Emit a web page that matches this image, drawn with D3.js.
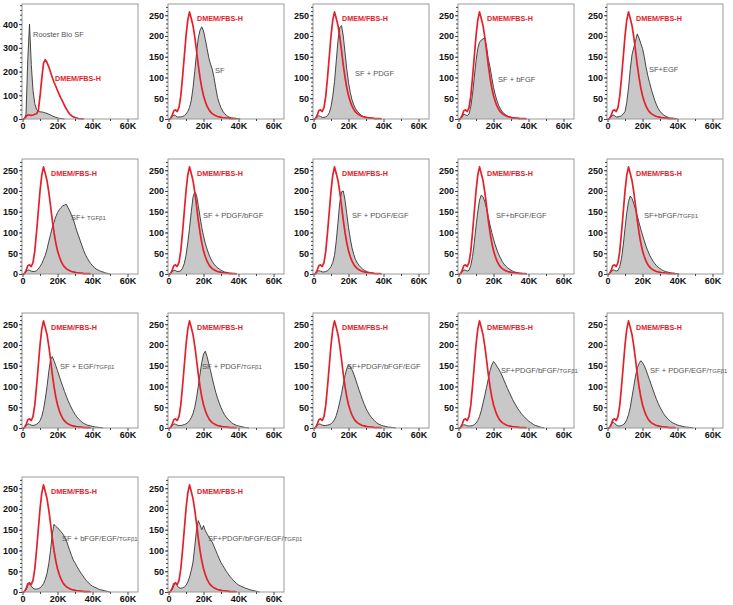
<!DOCTYPE html>
<html lang="en">
<head>
<meta charset="utf-8">
<title>Flow histograms</title>
<script src="https://d3js.org/d3.v7.min.js"></script>
<style>
  body { margin: 0; background: #fff; }
  text { font-family: "Liberation Sans", Arial, sans-serif; }
  .axis text { font-size: 9px; font-weight: bold; fill: #111; }
  .axis line { stroke: #444; }
  .axis path { display: none; }
</style>
</head>
<body>
<svg width="733" height="605"></svg>
<script>

// each value is the count in a 1K-wide bin, starting at 0
const binK = 1;

const xTicks = [0, 20, 40, 60];
const xTickLabels = ["0", "20K", "40K", "60K"];
const yTicks = [0, 50, 100, 150, 200, 250];
const yTicksRooster = [0, 100, 200, 300, 400];

const refLabel = "DMEM/FBS-H";

// red reference (DMEM/FBS-H)
const dmemFirst = [0,0,10,18,16,15,17,20,22,35,95,170,235,250,238,220,198,175,155,138,120,103,87,72,57,43,31,21,14,9,6,4,2,1,1,0];
const dmem = [0,0,8,20,22,18,28,55,100,150,200,238,258,242,225,198,165,130,100,75,56,42,31,23,17,13,10,8,6,5,4,3,3,2,2,1,1,1,1,0];

// grey samples
const rooster = [0,0,20,250,400,230,120,65,40,32,30,30,28,26,23,20,17,13,10,7,5,3,2,1,0];
const sf = [0,0,5,10,8,5,5,5,6,8,12,18,28,45,75,115,158,195,214,222,212,192,170,148,132,120,100,75,52,38,27,19,13,9,6,4,3,2,2,1,1,0];
const sfPdgf = [0,0,4,8,6,4,4,5,8,15,30,55,90,140,190,220,225,200,160,120,88,64,46,34,25,19,14,10,7,5,4,3,2,2,1,1,0];
const sfBfgf = [0,0,4,12,10,8,12,30,60,100,140,170,185,190,193,195,175,145,125,100,76,58,44,32,24,18,13,10,7,5,3,2,2,1,1,0];
const sfEgf = [0,0,4,10,8,5,5,6,8,12,18,40,75,120,155,172,188,205,195,182,170,150,125,105,88,72,58,45,34,25,18,14,10,7,5,3,2,2,1,1,0];
const sfTgf = [0,0,5,10,9,7,6,6,8,12,18,25,35,45,60,78,95,112,125,138,148,155,160,164,166,168,160,152,142,132,118,104,92,80,68,56,46,38,31,25,20,16,12,10,8,6,5,3,2,1,0];
const sfPdgfBfgf = [0,0,4,9,8,6,6,8,14,25,45,75,110,150,185,198,190,165,138,112,92,74,60,48,38,30,24,19,15,12,9,7,5,4,3,2,2,1,1,0];
const sfPdgfEgf = [0,0,4,8,7,5,5,6,8,12,18,28,45,80,125,172,198,200,178,145,112,85,63,47,35,27,21,16,12,9,7,5,4,3,2,1,1,0];
const sfBfgfEgf = [0,0,4,10,9,7,9,20,42,75,115,150,178,190,186,175,158,138,118,100,84,70,58,47,38,30,24,19,15,12,9,7,5,4,3,2,2,1,1,0];
const sfBfgfTgf = [0,0,4,10,9,7,9,18,38,70,110,148,175,188,182,170,155,140,124,108,94,80,67,56,46,38,31,25,20,16,13,10,8,6,5,4,3,2,2,1,1,0];
const sfEgfTgf = [0,0,5,10,9,7,6,7,9,12,18,28,45,70,100,135,165,172,162,150,138,125,112,100,88,77,66,57,48,40,33,27,22,18,14,11,9,7,6,5,4,3,2,2,1,1,0];
const sfPdgfTgf = [0,0,5,10,9,7,6,6,7,8,10,13,18,25,35,50,72,100,130,158,178,185,172,155,138,120,102,86,72,60,49,40,32,26,21,17,13,10,8,6,5,4,3,2,1,1,0];
const sfPdgfBfgfEgf = [0,0,5,10,9,7,6,6,7,8,10,14,20,30,45,63,83,105,126,143,152,148,140,130,118,105,92,80,68,57,47,39,32,26,21,17,13,10,8,6,5,4,3,2,2,1,1,0];
const sfPdgfBfgfTgf = [0,0,4,8,7,5,5,5,6,8,12,18,28,42,60,78,98,118,138,152,160,155,148,142,134,125,115,105,95,86,77,68,60,53,46,40,34,29,25,21,17,14,11,8,6,5,3,2,1,0];
const sfPdgfEgfTgf = [0,0,6,15,12,7,5,5,6,8,12,20,32,50,75,100,125,145,155,162,158,150,140,128,116,104,92,80,69,59,50,42,35,29,24,20,16,13,11,9,7,6,5,4,3,2,2,1,1,0];
const sfBfgfEgfTgf = [0,0,5,15,20,14,9,7,7,8,10,14,20,30,45,68,100,140,163,158,155,150,145,140,133,125,112,100,88,77,70,62,55,48,42,36,30,25,21,17,14,12,10,8,6,5,4,3,2,1,0];
const sfAll = [0,0,5,15,22,15,10,9,10,12,16,24,36,52,72,110,150,172,162,150,160,148,140,133,126,120,110,100,90,80,71,64,57,50,44,38,33,28,24,20,17,15,13,11,9,8,6,5,4,3,2,1,0];

const sampleLabels = [
  "Rooster Bio SF", "SF", "SF + PDGF", "SF + bFGF", "SF+EGF",
  "SF+ TGFβ1", "SF + PDGF/bFGF", "SF + PDGF/EGF", "SF+bFGF/EGF", "SF+bFGF/TGFβ1",
  "SF + EGF/TGFβ1", "SF + PDGF/TGFβ1", "SF+PDGF/bFGF/EGF", "SF+PDGF/bFGF/TGFβ1", "SF + PDGF/EGF/TGFβ1",
  "SF + bFGF/EGF/TGFβ1", "SF+PDGF/bFGF/EGF/TGFβ1"
];
const sampleCounts = [
  rooster, sf, sfPdgf, sfBfgf, sfEgf,
  sfTgf, sfPdgfBfgf, sfPdgfEgf, sfBfgfEgf, sfBfgfTgf,
  sfEgfTgf, sfPdgfTgf, sfPdgfBfgfEgf, sfPdgfBfgfTgf, sfPdgfEgfTgf,
  sfBfgfEgfTgf, sfAll
];

// layout
const colX = [22, 168, 313, 458, 607];
const rowY = [4, 159, 313, 477];
const pw = 116, ph = 115;
// grey label position inside each panel [dx, dy]
const labelPos = [
  [11, 33], [47, 69], [42, 72], [40, 78], [42, 68],
  [49, 61], [35, 59], [39, 59], [38, 59], [37, 59],
  [38, 56], [34, 56], [34, 56], [43, 60], [43, 60],
  [40, 64], [40, 64]
];

const svg = d3.select("svg");
const red = "#e3212a";

const x = d3.scaleLinear().domain([-0.3, 66]).range([0, pw]);

function addLabel(g, str, dx, dy) {
  const t = g.append("text").attr("x", dx).attr("y", dy)
    .style("font-size", "7.5px").style("fill", "#555");
  const k = str.indexOf("TGFβ1");
  if (k < 0) {
    t.text(str);
  } else {
    t.append("tspan").text(str.slice(0, k));
    t.append("tspan").style("font-size", "6px").text("TGFβ1");
  }
}

sampleCounts.forEach((counts, i) => {
  const row = Math.floor(i / 5), col = i % 5;
  const first = i === 0;
  const g = svg.append("g").attr("transform", "translate(" + colX[col] + "," + rowY[row] + ")");

  const y = d3.scaleLinear().domain([0, first ? 485 : 277]).range([ph, 0]);
  const ref = first ? dmemFirst : dmem;

  const area = d3.area().x((d, j) => x(j * binK)).y0(ph).y1(d => y(d));
  const line = d3.line().x((d, j) => x(j * binK)).y(d => y(d));

  g.append("path").attr("d", area(counts)).attr("fill", "#c8c8c8");
  g.append("path").attr("d", line(counts)).attr("fill", "none")
    .attr("stroke", "#333").attr("stroke-width", 0.9);
  g.append("path").attr("d", line(ref)).attr("fill", "none")
    .attr("stroke", red).attr("stroke-width", 1.7).attr("stroke-linejoin", "round");

  g.append("rect").attr("width", pw).attr("height", ph)
    .attr("fill", "none").attr("stroke", "#9a9a9a").attr("stroke-width", 1);

  // y axis: minor then major
  const yMinor = d3.range(0, first ? 485 : 277, first ? 20 : 10);
  g.append("g").attr("class", "axis")
    .call(d3.axisLeft(y).tickValues(yMinor).tickSize(2).tickFormat(""));
  g.append("g").attr("class", "axis")
    .call(d3.axisLeft(y).tickValues(first ? yTicksRooster : yTicks).tickSize(3).tickPadding(1));

  // x axis
  g.append("g").attr("class", "axis").attr("transform", "translate(0," + ph + ")")
    .call(d3.axisBottom(x).tickValues([10, 30, 50]).tickSize(2).tickFormat(""));
  g.append("g").attr("class", "axis").attr("transform", "translate(0," + ph + ")")
    .call(d3.axisBottom(x).tickValues(xTicks).tickSize(3).tickPadding(1)
      .tickFormat((d, k) => xTickLabels[k]));

  // labels
  g.append("text")
    .attr("x", first ? 33 : 29).attr("y", first ? 77 : 17)
    .style("font-size", "7.2px").style("font-weight", "bold").style("fill", red)
    .text(refLabel);
  addLabel(g, sampleLabels[i], labelPos[i][0], labelPos[i][1]);
});

</script>
</body>
</html>
